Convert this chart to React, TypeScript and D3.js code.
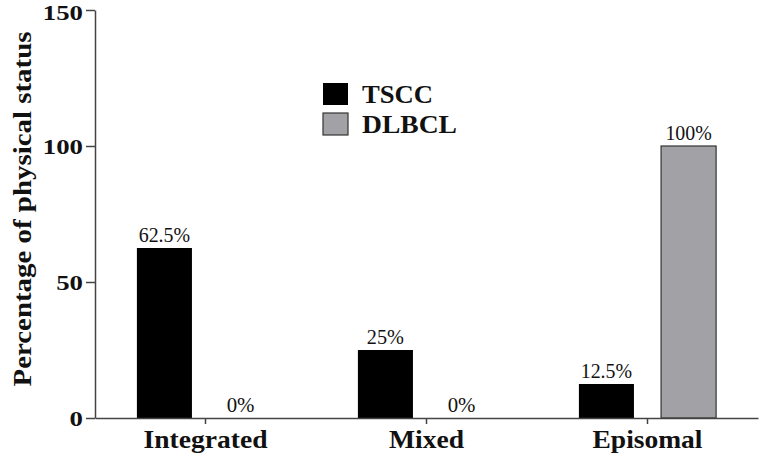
import { useRef, useEffect } from "react";
import * as d3 from "d3";

const categories = ["Integrated", "Mixed", "Episomal"];
const seriesNames = ["TSCC", "DLBCL"];
const tsccValues = [62.5, 25, 12.5];
const dlbclValues = [0, 0, 100];
const valueLabels = [
  ["62.5%", "0%"],
  ["25%", "0%"],
  ["12.5%", "100%"],
];
const yTicks = [0, 50, 100, 150];
const seriesColors = ["#000000", "#a2a2a6"];

const FONT = '"Liberation Serif", "Times New Roman", Times, serif';

// rough width of a label in reference pixels, used with textLength
const charW = (s: string, digit: number, pct: number, dot: number) =>
  s.split("").reduce((w, c) => w + (c === "%" ? pct : c === "." ? dot : digit), 0);

export default function App() {
  const svgRef = useRef<SVGSVGElement>(null);

  useEffect(() => {
    const svg = d3.select(svgRef.current);
    svg.selectAll("*").remove();

    const left = 95;
    const right = 758;
    const top = 10;
    const bottom = 418;

    const x0 = d3.scaleBand().domain(categories).range([left, right]).padding(0);
    const x1 = d3
      .scaleBand()
      .domain(seriesNames)
      .range([0, x0.bandwidth()])
      .paddingInner(0.33)
      .paddingOuter(0.51);
    const y = d3.scaleLinear().domain([0, 150]).range([bottom, top]);

    const rows = categories.map((c, i) => ({
      category: c,
      values: [tsccValues[i], dlbclValues[i]],
      labels: valueLabels[i],
    }));

    // bars
    const groups = svg
      .selectAll("g.group")
      .data(rows)
      .join("g")
      .attr("class", "group")
      .attr("transform", (d) => `translate(${x0(d.category)},0)`);

    groups
      .selectAll("rect")
      .data((d) => d.values.map((v, j) => ({ v, j })))
      .join("rect")
      .attr("x", (d) => x1(seriesNames[d.j])!)
      .attr("y", (d) => y(d.v))
      .attr("width", x1.bandwidth())
      .attr("height", (d) => bottom - y(d.v))
      .attr("fill", (d) => seriesColors[d.j])
      .attr("stroke", (d) => (d.j === 1 && d.v > 0 ? "#333" : "none"))
      .attr("stroke-width", 1.2);

    groups
      .selectAll("text.val")
      .data((d) => d.values.map((v, j) => ({ v, j, label: d.labels[j] })))
      .join("text")
      .attr("class", "val")
      .attr("x", (d) => x1(seriesNames[d.j])! + x1.bandwidth() / 2 - (d.v === 0 ? 6 : 0))
      .attr("y", (d) => y(d.v) - 6)
      .attr("text-anchor", "middle")
      .style("font-family", FONT)
      .attr("font-size", 20)
      .attr("fill", "#111")
      .attr("textLength", (d) => charW(d.label, 9.3, 18.5, 5))
      .attr("lengthAdjust", "spacingAndGlyphs")
      .text((d) => d.label);

    // y axis
    const yAxis = svg
      .append("g")
      .attr("transform", `translate(${left},0)`)
      .call(d3.axisLeft(y).tickValues(yTicks).tickSize(9).tickSizeOuter(0));
    yAxis.select(".domain").attr("stroke", "#444").attr("stroke-width", 1.5);
    yAxis.selectAll(".tick line").attr("stroke", "#444").attr("stroke-width", 1.5);
    yAxis
      .selectAll<SVGTextElement, number>(".tick text")
      .attr("x", -12)
      .attr("dy", (d) => (d === 150 ? "0.42em" : "0.34em"))
      .style("font-family", FONT)
      .attr("font-weight", "bold")
      .attr("font-size", 22)
      .attr("fill", "#111")
      .attr("textLength", (d) => String(d).length * 13.4)
      .attr("lengthAdjust", "spacingAndGlyphs");

    // x axis
    const xWidths: Record<string, number> = { Integrated: 124, Mixed: 75, Episomal: 110 };
    const xAxis = svg
      .append("g")
      .attr("transform", `translate(0,${bottom})`)
      .call(d3.axisBottom(x0).tickSize(6).tickSizeOuter(0));
    xAxis.select(".domain").attr("stroke", "#444").attr("stroke-width", 1.5);
    xAxis.selectAll(".tick line").attr("stroke", "#444").attr("stroke-width", 1.5);
    xAxis
      .selectAll<SVGTextElement, string>(".tick text")
      .attr("y", 30)
      .attr("dy", 0)
      .style("font-family", FONT)
      .attr("font-weight", "bold")
      .attr("font-size", 25)
      .attr("fill", "#111")
      .attr("textLength", (d) => xWidths[d])
      .attr("lengthAdjust", "spacingAndGlyphs");

    // y title
    svg
      .append("text")
      .attr("transform", `translate(31,209) rotate(-90)`)
      .attr("text-anchor", "middle")
      .style("font-family", FONT)
      .attr("font-weight", "bold")
      .attr("font-size", 26)
      .attr("fill", "#111")
      .attr("textLength", 355)
      .attr("lengthAdjust", "spacingAndGlyphs")
      .text("Percentage of physical status");

    // legend
    const legendWidths = [71, 95];
    const legend = svg
      .selectAll("g.legend")
      .data(seriesNames)
      .join("g")
      .attr("class", "legend")
      .attr("transform", (_, i) => `translate(323,${83 + i * 30})`);
    legend
      .append("rect")
      .attr("width", 25)
      .attr("height", 22)
      .attr("fill", (_, i) => seriesColors[i])
      .attr("stroke", (_, i) => (i === 1 ? "#333" : "none"))
      .attr("stroke-width", 1.2);
    legend
      .append("text")
      .attr("x", 39)
      .attr("y", 20)
      .style("font-family", FONT)
      .attr("font-weight", "bold")
      .attr("font-size", 25)
      .attr("fill", "#111")
      .attr("textLength", (_, i) => legendWidths[i])
      .attr("lengthAdjust", "spacingAndGlyphs")
      .text((d) => d);
  }, []);

  return (
    <svg
      ref={svgRef}
      width={762}
      height={460}
      style={{ position: "absolute", left: 0, top: 0, background: "#fff" }}
    />
  );
}
